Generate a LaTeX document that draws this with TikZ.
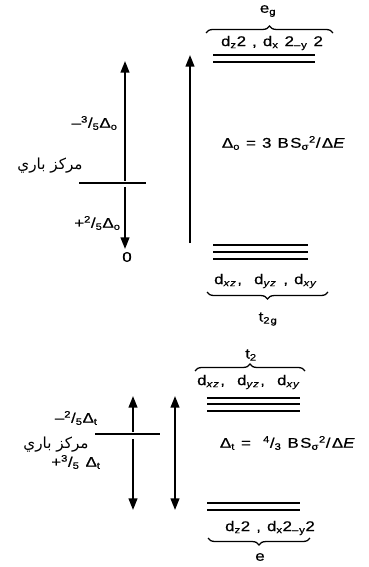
\documentclass[tikz,border=0pt]{standalone}
\usepackage{fontspec}
\setmainfont{Liberation Sans}[FakeStretch=1.2, LetterSpace=10, FakeBold=0.6]
\newfontfamily\arabicfont[Script=Arabic]{DejaVu Sans}
\TeXXeTstate=1
\usetikzlibrary{arrows.meta,decorations.pathreplacing}
\tikzset{
  lvl/.style  = {line width=1.2pt},
  bar/.style  = {line width=1.2pt},
  up/.style   = {line width=1.5pt, -{Triangle[length=10pt,width=7.5pt]}},
  both/.style = {line width=1.5pt, {Triangle[length=10pt,width=7.5pt]}-{Triangle[length=10pt,width=7.5pt]}},
  brc/.style  = {decorate, decoration={brace, amplitude=6pt}, line width=1.1pt},
  et/.style   = {font=\fontsize{12}{14}\selectfont, inner sep=1pt},
  ar/.style   = {font=\arabicfont\fontsize{13}{15}\selectfont, inner sep=1pt}
}
\newcommand{\sub}[1]{\textsubscript{#1}}
\newcommand{\sups}[1]{\textsuperscript{#1}}

\begin{document}
\begin{tikzpicture}[x=0.03cm, y=-0.03cm]
  \useasboundingbox (0,0) rectangle (368,567);
  % octahedral field
  \node[et] (eg)  at (268,11)  {e\sub{g}};
  \draw[brc] (206,33) -- (333,33);
  \node[et] (egd) at (272,43)  {d\sub{z}2 , d\sub{x} 2\sub{--y} 2};
  \draw[lvl] (213,55) -- (315,55); \draw[lvl] (213,62) -- (315,62);
  \draw[lvl] (213,245) -- (308,245); \draw[lvl] (213,252) -- (308,252); \draw[lvl] (213,259) -- (308,259);
  \node[et] (tgd) at (266,281) {d\sub{\textit{xz}}, \ d\sub{\textit{yz}} , d\sub{\textit{xy}}};
  \draw[brc] (328,292) -- (207,292);
  \node[et] (tg)  at (268,319) {t\sub{2g}};
  \node[et] (Do)  at (284,143) {Δ\sub{o} = 3 BS\sub{σ}\sups{2}/Δ\textit{E}};

  \coordinate (bL) at (79,183); \coordinate (bR) at (146,183); \draw[bar] (bL) -- (bR);
  \coordinate (o1) at (125,181); \coordinate (o2) at (125,61);  \draw[up] (o1) -- (o2);
  \coordinate (o3) at (125,187); \coordinate (o4) at (125,249); \draw[up] (o3) -- (o4);
  \coordinate (D1) at (190,243); \coordinate (D2) at (190,55);  \draw[up] (D1) -- (D2);
  \node[et,left] (mo) at (119,123) {--\sups{3}/\sub{5}Δ\sub{o}};
  \node[ar] (bo) at (50,166) {\beginR مركز باري\endR};
  \node[et,left] (po) at (122,223) {+\sups{2}/\sub{5}Δ\sub{o}};
  \node[et] (zr) at (127,257) {0};

  % tetrahedral field
  \node[et] (t2)  at (251,355) {t\sub{2}};
  \draw[brc] (195,371) -- (305,371);
  \node[et] (t2d) at (249,382) {d\sub{\textit{xz}}, \ d\sub{\textit{yz}}, \ d\sub{\textit{xy}}};
  \draw[lvl] (207,398) -- (300,398); \draw[lvl] (207,404) -- (300,404); \draw[lvl] (207,411) -- (300,411);
  \node[et] (Dt)  at (288,443) {Δ\sub{t} = \ \sups{4}/\sub{3} BS\sub{σ}\sups{2}/Δ\textit{E}};
  \draw[lvl] (207,503) -- (300,503); \draw[lvl] (207,510) -- (300,510);
  \node[et] (ed)  at (270,528) {d\sub{z}2 , d\sub{x}2\sub{--y}2};
  \draw[brc] (310,538) -- (208,538);
  \node[et] (e)   at (260,557) {e};

  \coordinate (cL) at (95,434); \coordinate (cR) at (160,434); \draw[bar] (cL) -- (cR);
  \coordinate (s1) at (133,432); \coordinate (s2) at (133,396); \draw[up] (s1) -- (s2);
  \coordinate (s3) at (133,439); \coordinate (s4) at (133,510); \draw[up] (s3) -- (s4);
  \coordinate (F1) at (175,396); \coordinate (F2) at (175,510); \draw[both] (F1) -- (F2);
  \node[et,left] (mt) at (99,418) {--\sups{2}/\sub{5}Δ\sub{t}};
  \node[ar] (bt) at (56,445) {\beginR مركز باري\endR};
  \node[et,left] (pt) at (102,462) {+\sups{3}/\sub{5} Δ\sub{t}};
\end{tikzpicture}
\end{document}
